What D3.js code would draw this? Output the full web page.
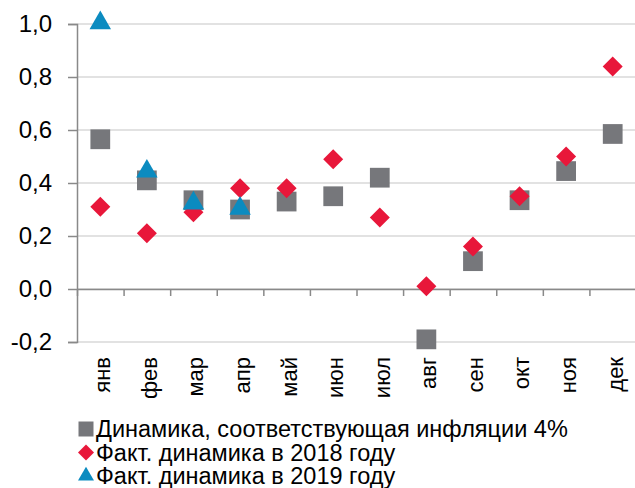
<!DOCTYPE html>
<html>
<head>
<meta charset="utf-8">
<script src="https://cdn.jsdelivr.net/npm/d3@7"></script>
<style>
    body { margin: 0; background: #fff; }
    svg { display: block; font-family: "Liberation Sans", Arial, sans-serif; }
</style>
</head>
<body>
<div id="chart"></div>
<script>
// months and series values (monthly change, %)
let months = ["янв", "фев", "мар", "апр", "май", "июн", "июл", "авг", "сен", "окт", "ноя", "дек"];
let target4 = [0.565, 0.41, 0.335, 0.30, 0.33, 0.35, 0.42, -0.19, 0.105, 0.335, 0.445, 0.585];
let fact2018 = [0.31, 0.21, 0.29, 0.38, 0.38, 0.49, 0.27, 0.01, 0.16, 0.35, 0.50, 0.84];
let fact2019 = [1.0, 0.44, 0.32, 0.30];
let yTicks = [-0.2, 0, 0.2, 0.4, 0.6, 0.8, 1.0];
let legendLabels = [
    "Динамика, соответствующая инфляции 4%",
    "Факт. динамика в 2018 году",
    "Факт. динамика в 2019 году"
];

let colors = { square: "#76777b", diamond: "#e8173a", triangle: "#0b8bc0" };

let width = 635, height = 488;
let margin = { left: 77, right: 636, top: 24, bottom: 342 };

let svg = d3.select("#chart")
    .append("svg")
    .attr("width", width)
    .attr("height", height);

let x = d3.scaleBand().domain(months).range([margin.left, margin.right]);
let xEdge = d3.scaleLinear().domain([0, months.length]).range([margin.left, margin.right]);
let y = d3.scaleLinear().domain([-0.2, 1.0]).range([margin.bottom, margin.top]);

// gridlines
svg.append("g")
    .selectAll("line")
    .data(yTicks)
    .enter()
    .append("line")
    .attr("x1", margin.left)
    .attr("x2", margin.right)
    .attr("y1", d => y(d))
    .attr("y2", d => y(d))
    .attr("stroke", "#d9d9d9")
    .attr("stroke-width", 1.5);

// y axis
let yAxis = svg.append("g")
    .attr("transform", "translate(" + margin.left + ",0)")
    .call(d3.axisLeft(y)
        .tickValues(yTicks)
        .tickSize(9)
        .tickPadding(16)
        .tickFormat(d => d3.format(".1f")(d).replace(".", ",").replace("−", "-")));
yAxis.select(".domain").attr("stroke", "#898989").attr("stroke-width", 1.5);
yAxis.selectAll(".tick line").attr("stroke", "#898989").attr("stroke-width", 1.5);
yAxis.selectAll(".tick text")
    .attr("fill", "#000")
    .style("font-size", "24px");

// x axis at zero, ticks at band edges
let xAxis = svg.append("g")
    .attr("transform", "translate(0," + y(0) + ")")
    .call(d3.axisBottom(xEdge)
        .tickValues(d3.range(months.length + 1))
        .tickSize(7)
        .tickSizeOuter(0)
        .tickFormat(""));
xAxis.select(".domain").attr("stroke", "#898989").attr("stroke-width", 1.5);
xAxis.selectAll(".tick line").attr("stroke", "#898989").attr("stroke-width", 1.5);

// month labels, rotated
svg.append("g")
    .selectAll("text")
    .data(months)
    .enter()
    .append("text")
    .attr("transform", d => "translate(" + (x(d) + x.bandwidth() / 2) + ",357) rotate(-90)")
    .attr("text-anchor", "end")
    .attr("dy", "0.45em")
    .style("font-size", "22px")
    .text(d => d);

// markers
let square = d3.symbol().type(d3.symbolSquare).size(390);
let diamond = d => "M0,-10L10,0L0,10L-10,0Z";
let triangle = d3.symbol().type(d3.symbolTriangle).size(200);

svg.append("g")
    .selectAll("path")
    .data(target4)
    .enter()
    .append("path")
    .attr("d", square)
    .attr("transform", (d, i) => "translate(" + (x(months[i]) + x.bandwidth() / 2) + "," + y(d) + ")")
    .attr("fill", colors.square);

svg.append("g")
    .selectAll("path")
    .data(fact2018)
    .enter()
    .append("path")
    .attr("d", diamond)
    .attr("transform", (d, i) => "translate(" + (x(months[i]) + x.bandwidth() / 2) + "," + y(d) + ")")
    .attr("fill", colors.diamond);

svg.append("g")
    .selectAll("path")
    .data(fact2019)
    .enter()
    .append("path")
    .attr("d", triangle)
    .attr("transform", (d, i) => "translate(" + (x(months[i]) + x.bandwidth() / 2) + "," + (y(d) - 1) + ")")
    .attr("fill", colors.triangle);

// legend
let legendShapes = [
    d3.symbol().type(d3.symbolSquare).size(225)(),
    "M0,-8L8,0L0,8L-8,0Z",
    d3.symbol().type(d3.symbolTriangle).size(110)()
];
let legendColors = [colors.square, colors.diamond, colors.triangle];

let legend = svg.append("g")
    .selectAll("g")
    .data(legendLabels)
    .enter()
    .append("g")
    .attr("transform", (d, i) => "translate(0," + (437 + i * 23.5) + ")");

legend.append("path")
    .attr("d", (d, i) => legendShapes[i])
    .attr("transform", "translate(86,-8)")
    .attr("fill", (d, i) => legendColors[i]);

legend.append("text")
    .attr("x", 96)
    .style("font-size", "23.5px")
    .text(d => d);
</script>
</body>
</html>
